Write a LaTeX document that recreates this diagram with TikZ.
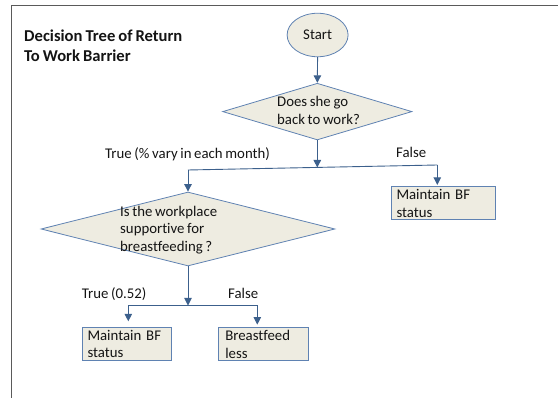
\documentclass[tikz,border=0pt]{standalone}
\usepackage{fontspec}
\setmainfont{Carlito}[Ligatures=NoCommon, WordSpace=0.8]
\usetikzlibrary{shapes.geometric,arrows.meta}

\definecolor{shapefill}{RGB}{238,236,225}
\definecolor{shapeline}{RGB}{95,130,178}
\definecolor{linkblue}{RGB}{60,96,140}
\definecolor{framegray}{RGB}{90,90,90}
\definecolor{inkblack}{RGB}{20,20,20}

\tikzset{
  txt/.style={font=\fontsize{14.8}{17.5}\selectfont, text=inkblack},
  flowshape/.style={draw=shapeline, fill=shapefill, line width=0.8pt},
  terminal/.style={flowshape, ellipse, inner sep=0pt, txt},
  decision/.style={flowshape, diamond, inner sep=0pt},
  outcome/.style={flowshape, rectangle, txt, align=left, inner xsep=5.5pt,
    inner ysep=0pt, minimum height=33pt},
  plaintext/.style={txt, inner sep=0pt},
  link/.style={draw=linkblue, line width=0.9pt},
  arrowlink/.style={link, -{Triangle[width=7.5pt,length=7.5pt]}}
}

\begin{document}
\begin{tikzpicture}[x=1pt, y=-1pt]
\useasboundingbox (0,0) rectangle (558,398);

% page frame (top and left edges)
\draw[framegray, line width=1.3pt] (11.7,398) -- (11.7,5.7) -- (557.7,5.7);

% title
\node[font=\fontsize{16.6}{20}\selectfont\bfseries, text=inkblack, align=left,
  anchor=north west, inner sep=0pt] (title) at (24,30)
  {Decision Tree of Return\\To Work Barrier};

% shapes
\node[terminal, minimum width=61pt, minimum height=43.5pt] (start) at (317.6,35) {Start};

\node[decision, minimum width=189.3pt, minimum height=56.7pt] (q1) at (317.3,111.6) {};
\node[plaintext, align=left, anchor=north west] (q1text) at (277,96.5)
  {Does she go\\back to work?};

\node[decision, minimum width=294pt, minimum height=74pt] (q2) at (188,229) {};
\node[plaintext, align=left, anchor=north west] (q2text) at (120,205.6)
  {Is the workplace\\supportive for\\breastfeeding ?};

\node[outcome, text width=93pt] (b1) at (443,203.3) {Maintain BF\\status};
\node[outcome, text width=78pt] (b2) at (126.5,344.2) {Maintain BF\\status};
\node[outcome, text width=76pt, inner xsep=7pt] (b3) at (263.3,344.2) {Breastfeed\\less};

% branch labels
\node[plaintext, anchor=base west] (t1) at (105,159) {True (\% vary in each month)};
\node[plaintext, anchor=base west] (f1) at (396,158) {False};
\node[plaintext, anchor=base west] (t2) at (81.7,299) {True (0.52)};
\node[plaintext, anchor=base west] (f2) at (228,299) {False};

% first split
\coordinate (j1) at (317.3,167.5);
\coordinate (j1l) at (188,170);
\coordinate (j1r) at (437.3,165);
\draw[arrowlink] (start.south) -- (q1.north);
\draw[arrowlink] (q1.south) -- (j1);
\draw[link] (j1l) -- (j1r);
\draw[arrowlink] (j1l) -- (q2.north);
\draw[arrowlink, shorten >=1.5pt] (j1r) -- (j1r |- b1.north);

% second split
\coordinate (j2) at (188,305.5);
\coordinate (j2l) at (128.3,305.5);
\coordinate (j2r) at (257.3,305.5);
\draw[arrowlink] (q2.south) -- (j2);
\draw[link] (j2l) -- (j2r);
\draw[arrowlink, shorten >=6pt] (j2l) -- (j2l |- b2.north);
\draw[arrowlink, shorten >=2.7pt] (j2r) -- (j2r |- b3.north);
\end{tikzpicture}
\end{document}
